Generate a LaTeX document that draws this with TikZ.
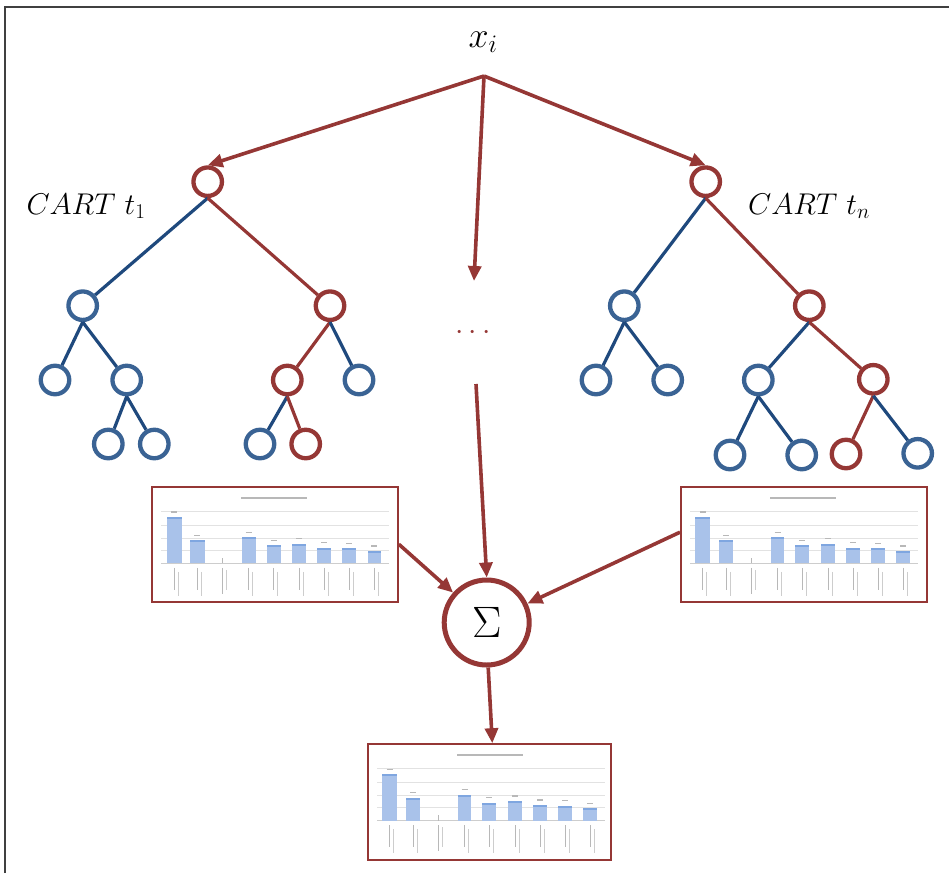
\documentclass[tikz,border=0pt]{standalone}
\usepackage{fix-cm}
\usetikzlibrary{arrows.meta,calc}
\definecolor{cred}{HTML}{953735}
\definecolor{cline}{HTML}{1F497D}
\definecolor{cnode}{HTML}{3A6394}
\definecolor{cbar}{HTML}{A9C2EA}
\definecolor{cbartop}{HTML}{7FA6E0}
\definecolor{cgrid}{HTML}{E2E2E2}
\definecolor{ctxt}{HTML}{B8B8B8}
\tikzset{
  bnode/.style={circle,draw=cnode,line width=4.3pt,minimum size=28.5pt,inner sep=0pt,fill=white},
  rnode/.style={circle,draw=cred,line width=4.3pt,minimum size=28.5pt,inner sep=0pt,fill=white},
  bedge/.style={draw=cline,line width=3.2pt},
  redge/.style={draw=cred,line width=3.2pt},
  arr/.style={draw=cred,line width=3.6pt,-{Triangle[length=15pt,width=13pt]}},
  chartbox/.style={rectangle,draw=cred,line width=1.6pt,fill=white,minimum width=246pt,minimum height=115pt,inner sep=0pt},
  lbl/.style={font=\fontsize{30}{36}\selectfont,inner sep=0pt}
}
\newcommand{\chartstuff}[1]{%
  \begin{scope}[shift={(#1.north west)}]
    % title
    \draw[ctxt,line width=2pt] (90,12) -- (156,12);
    % grid
    \foreach \gy in {25,39,52,64} {\draw[cgrid,line width=0.8pt] (10,\gy) -- (238,\gy);}
    \draw[ctxt!70,line width=0.8pt] (10,77.3) -- (238,77.3);
    % bars
    \foreach \xa/\xb/\h in {15.3/30.3/46.3,39/53.3/23,91/104.3/26,115.3/129.3/18,141/155/19.7,166/180/15.7,191/205/15,216.3/230/12.3} {
      \fill[cbar] (\xa,77.3) rectangle (\xb,77.3-\h);
      \fill[cbartop] (\xa,77.3-\h) rectangle (\xb,77.3-\h+2);
      \draw[ctxt,line width=1.4pt] ({(\xa+\xb)/2-3},77.3-\h-5) -- ({(\xa+\xb)/2+3},77.3-\h-5);
      \draw[ctxt,line width=1pt] ({(\xa+\xb)/2},82) -- ({(\xa+\xb)/2},104);
      \draw[ctxt!70,line width=0.8pt] ({(\xa+\xb)/2+4},86) -- ({(\xa+\xb)/2+4},110);
    }
    \draw[ctxt,line width=1pt] (71,77.3) -- (71,72);
    \draw[ctxt,line width=1pt] (71,82) -- (71,108);
    \draw[ctxt!70,line width=0.8pt] (75,84) -- (75,104);
  \end{scope}}
\begin{document}
\begin{tikzpicture}[x=1pt,y=-1pt]
\useasboundingbox (0,0) rectangle (949,873);
% frame
\draw[black!75,line width=1.5pt] (5,873) -- (5,7) -- (949,7);

% input
\node[lbl,font=\fontsize{36}{42}\selectfont] (xi) at (483,42) {$x_i$};
\coordinate (apex) at (484,76);

% left tree
\node[rnode] (L0) at (207.7,181.7) {};
\node[bnode] (L1) at (82.7,305.7) {};
\node[rnode] (L2) at (330,305.7) {};
\node[bnode] (L3) at (55,380) {};
\node[bnode] (L4) at (126.7,380) {};
\node[rnode] (L5) at (287.3,380) {};
\node[bnode] (L6) at (359,380) {};
\node[bnode] (L7) at (108.3,444) {};
\node[bnode] (L8) at (154.3,444) {};
\node[bnode] (L9) at (260,444) {};
\node[rnode] (L10) at (305.7,444) {};
\path[bedge] (L0.south) -- (L1);
\path[redge] (L0.south) -- (L2);
\path[bedge] (L1.south) -- (L3);
\path[bedge] (L1.south) -- (L4);
\path[bedge] (L4.south) -- (L7);
\path[bedge] (L4.south) -- (L8);
\path[redge] (L2.south) -- (L5);
\path[bedge] (L2.south) -- (L6);
\path[bedge] (L5.south) -- (L9);
\path[redge] (L5.south) -- (L10);
\node[lbl] (cart1) at (86,206) {$CART\ t_1$};

% right tree
\node[rnode] (R0) at (705.7,181.7) {};
\node[bnode] (R1) at (624.3,305.7) {};
\node[rnode] (R2) at (809.3,305.7) {};
\node[bnode] (R3) at (596,380) {};
\node[bnode] (R4) at (667.7,380) {};
\node[bnode] (R5) at (758.3,380) {};
\node[rnode] (R6) at (873.3,379.3) {};
\node[bnode] (R7) at (730,455) {};
\node[bnode] (R8) at (801.7,455) {};
\node[rnode] (R9) at (846,454) {};
\node[bnode] (R10) at (917.7,453.3) {};
\path[bedge] (R0.south) -- (R1);
\path[redge] (R0.south) -- (R2);
\path[bedge] (R1.south) -- (R3);
\path[bedge] (R1.south) -- (R4);
\path[bedge] (R2.south) -- (R5);
\path[redge] (R2.south) -- (R6);
\path[bedge] (R5.south) -- (R7);
\path[bedge] (R5.south) -- (R8);
\path[redge] (R6.south) -- (R9);
\path[bedge] (R6.south) -- (R10);
\node[lbl] (cartn) at (809,206) {$CART\ t_n$};

% middle
\coordinate (midtip) at (474,281);
\node[lbl,text=cred,font=\fontsize{30}{36}\selectfont] (dots) at (473,333) {$\cdots$};
\coordinate (midstart) at (476,384);

% sum
\node[circle,draw=cred,line width=5pt,minimum size=85pt,inner sep=0pt,fill=white,font=\fontsize{44}{50}\selectfont] (sigma) at (486.7,622.5) {$\Sigma$};

% charts
\node[chartbox] (lbox) at (275,544.2) {};
\chartstuff{lbox}
\node[chartbox] (rbox) at (803.8,544.2) {};
\chartstuff{rbox}
\node[chartbox,minimum width=243pt,minimum height=116pt] (bbox) at (489.3,802) {};
\chartstuff{bbox}

% arrows
\draw[arr] (apex) -- (L0.north);
\draw[arr] (apex) -- (R0.north);
\draw[arr] (apex) -- (midtip);
\draw[arr] (midstart) -- (sigma.north);
\draw[arr] (lbox.east) -- (sigma);
\draw[arr] ([yshift=12pt]rbox.west) -- (sigma);
\draw[arr] ([xshift=1.5pt]sigma.south) -- ([xshift=3pt]bbox.north);
\end{tikzpicture}
\end{document}
